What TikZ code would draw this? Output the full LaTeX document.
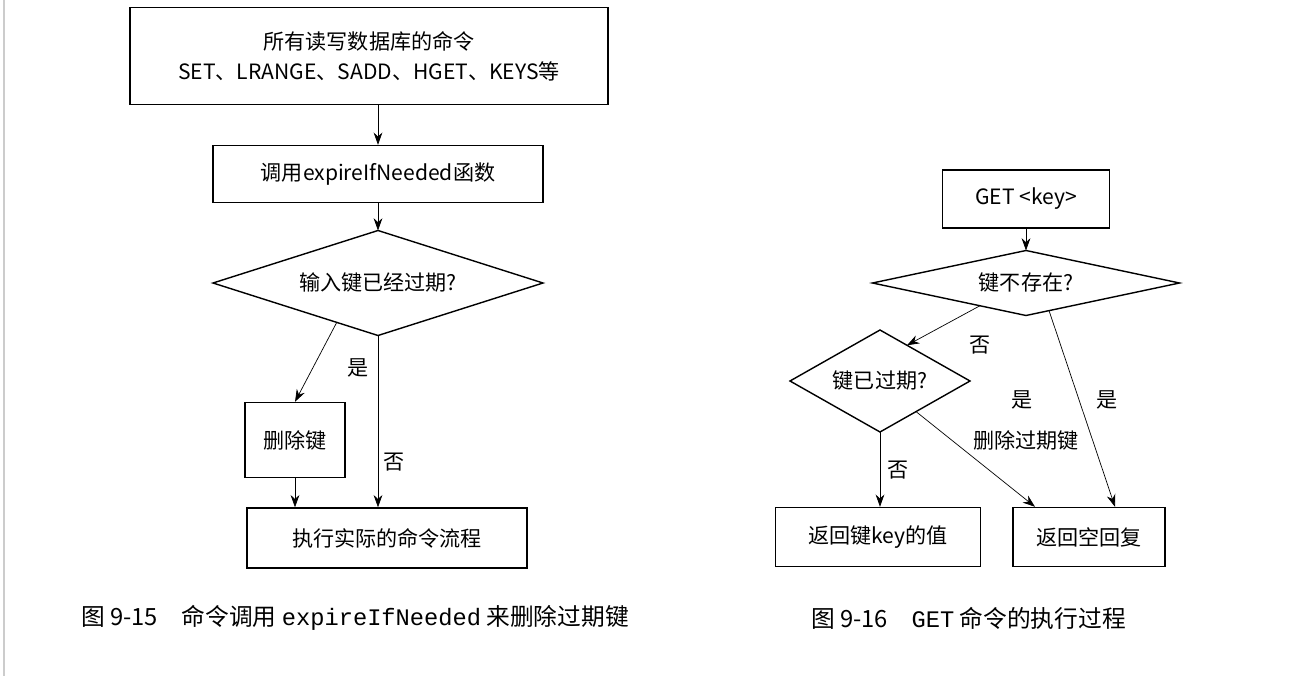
\documentclass[tikz,border=0pt]{standalone}
\usepackage{fontspec}
\setmainfont{Noto Sans CJK SC}
\newfontfamily\monofont{Liberation Mono}
\usetikzlibrary{shapes.geometric,calc,arrows.meta}
\tikzset{
    box/.style={draw,thick,inner sep=0pt,font=\fontsize{12}{17}\selectfont,align=center},
    choice/.style={draw,thick,diamond,inner sep=0pt,outer sep=0pt},
    flow/.style={-{Stealth[length=7pt,width=5pt]}},
    tag/.style={font=\fontsize{12}{15}\selectfont},
    caption/.style={font=\fontsize{13.5}{16}\selectfont,anchor=west}
}
\begin{document}
\begin{tikzpicture}[x=0.02cm,y=-0.02cm]
\useasboundingbox (0,0) rectangle (1316,676);
\draw[gray!40,thick] (4,0) -- (4,676);
% left chart
\node[box,minimum width=478*0.02cm,minimum height=97*0.02cm] (cmds) at (369,56) {所有读写数据库的命令\\SET、LRANGE、SADD、HGET、KEYS等};
\node[box,minimum width=330*0.02cm,minimum height=57*0.02cm] (call) at (378,174) {调用expireIfNeeded函数};
\node[choice,aspect=3.14,minimum width=330*0.02cm,minimum height=105*0.02cm] (expd) at (378,283) {};
\node[tag] at (expd) {输入键已经过期?};
\node[box,minimum width=100*0.02cm,minimum height=75*0.02cm] (del) at (295,440) {删除键};
\node[box,minimum width=280*0.02cm,minimum height=60*0.02cm] (run) at (387,538) {执行实际的命令流程};
\draw[flow] (cmds.south -| call) -- (call);
\draw[flow] (call) -- (expd.north);
\draw[flow] ($(expd.south)!0.25!(expd.west)$) -- (del.north);
\draw[flow] (expd.south) -- (expd.south |- run.north);
\draw[flow] (del.south) -- (del.south |- run.north);
\node[tag] at (358,368) {是};
\node[tag] at (394,462) {否};
\node[caption] at (75,618) {图 9-15\quad 命令调用 {\monofont expireIfNeeded} 来删除过期键};
% right chart
\node[box,minimum width=167*0.02cm,minimum height=58*0.02cm] (get) at (1026,199) {GET <key>};
\node[choice,aspect=4.7,minimum width=307*0.02cm,minimum height=65*0.02cm] (miss) at (1026,283) {};
\node[tag] at (miss) {键不存在?};
\node[choice,aspect=1.76,minimum width=180*0.02cm,minimum height=102*0.02cm] (old) at (880,381) {};
\node[tag] at (old) {键已过期?};
\node[box,minimum width=205*0.02cm,minimum height=59*0.02cm] (val) at (878,537) {返回键key的值};
\node[box,minimum width=152*0.02cm,minimum height=59*0.02cm] (nil) at (1089,537) {返回空回复};
\draw[flow] (get) -- (miss.north);
\draw[flow] ($(miss.south)!0.3!(miss.west)$) -- ($(old.north)!0.3!(old.east)$);
\draw[flow] ($(miss.south)!0.15!(miss.east)$) -- ($(nil.north)+(26,0)$);
\draw[flow] ($(old.south)!0.4!(old.east)$) -- ($(nil.north)+(-54,0)$);
\draw[flow] (old.south) -- (old.south |- val.north);
\node[tag] at (980,345) {否};
\node[tag] at (1107,400) {是};
\node[tag] at (1022,400) {是};
\node[tag] at (1026,440) {删除过期键};
\node[tag] at (898,470) {否};
\node[caption] at (805,618) {图 9-16\quad {\monofont GET} 命令的执行过程};
\end{tikzpicture}
\end{document}
